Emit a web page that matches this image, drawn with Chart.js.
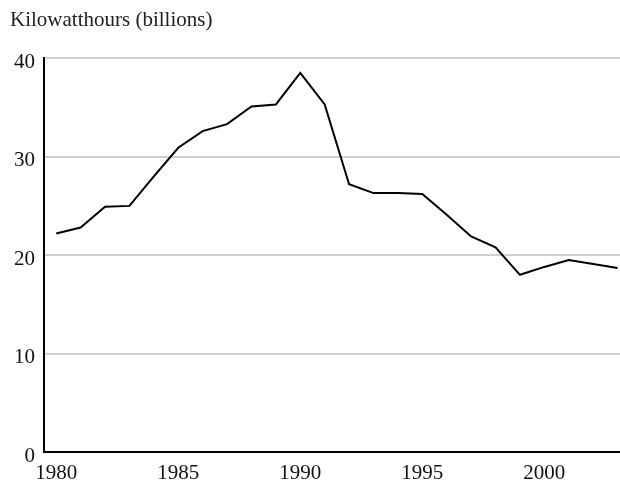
<!DOCTYPE html>
<html>
<head>
<meta charset="utf-8">
<script src="https://cdn.jsdelivr.net/npm/chart.js@4"></script>
<style>
  html, body { margin: 0; padding: 0; background: #fff; }
  canvas { display: block; }
</style>
</head>
<body>
<canvas id="kwhChart" width="620" height="481"></canvas>
<script>
// Kilowatthours (billions) by year
const years = [1980, 1981, 1982, 1983, 1984, 1985, 1986, 1987, 1988, 1989, 1990, 1991,
               1992, 1993, 1994, 1995, 1996, 1997, 1998, 1999, 2000, 2001, 2002, 2003];
const kwh = [22.2, 22.8, 24.9, 25.0, 28.0, 30.9, 32.6, 33.3, 35.1, 35.3, 38.5, 35.3,
             27.2, 26.3, 26.3, 26.2, 24.1, 21.9, 20.8, 18.0, 18.8, 19.5, 19.1, 18.7];
const xTicks = [1980, 1985, 1990, 1995, 2000];
const yTicks = [0, 10, 20, 30, 40];

const serif = "'Liberation Serif', 'Times New Roman', serif";

const ctx = document.getElementById('kwhChart').getContext('2d');
const chart = new Chart(ctx, {
    type: 'line',
    data: {
        datasets: [{
            data: years.map((y, i) => ({ x: y, y: kwh[i] })),
            borderColor: '#000',
            borderWidth: 2,
            pointRadius: 0,
            tension: 0,
            fill: false
        }]
    },
    options: {
        responsive: false,
        animation: false,
        devicePixelRatio: 1,
        layout: { padding: { left: 10, right: 0, bottom: 0, top: 0 } },
        plugins: {
            legend: { display: false },
            tooltip: { enabled: false },
            title: {
                display: true,
                text: 'Kilowatthours (billions)',
                align: 'start',
                color: '#222',
                font: { family: serif, size: 21, weight: 'normal' },
                padding: { top: 8, bottom: 25 }
            }
        },
        scales: {
            x: {
                type: 'linear',
                min: 1979.5,
                max: 2003.1,
                afterBuildTicks: scale => { scale.ticks = xTicks.map(v => ({ value: v })); },
                afterFit: scale => { scale.height = 29; },
                grid: { display: false, drawTicks: false },
                border: { color: '#000', width: 2 },
                ticks: {
                    color: '#111',
                    padding: 9,
                    maxRotation: 0,
                    font: { family: serif, size: 21 },
                    callback: v => String(v)
                }
            },
            y: {
                min: 0,
                max: 40,
                afterBuildTicks: scale => { scale.ticks = yTicks.map(v => ({ value: v })); },
                afterFit: scale => { scale.width = 34; },
                grid: { color: '#d0d0d0', lineWidth: 2, drawTicks: false },
                border: { color: '#000', width: 2 },
                ticks: {
                    color: '#111',
                    padding: 9,
                    labelOffset: 4,
                    font: { family: serif, size: 21 }
                }
            }
        }
    }
});
</script>
</body>
</html>
